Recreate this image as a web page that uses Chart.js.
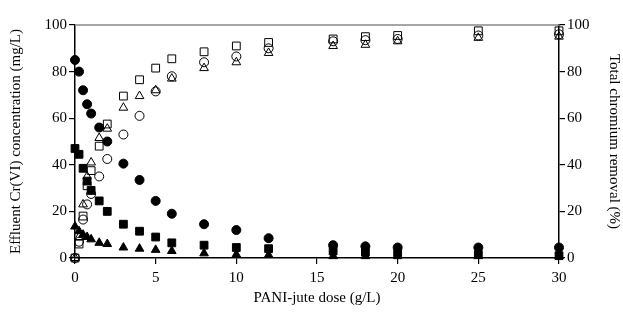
<!DOCTYPE html>
<html>
<head>
<meta charset="utf-8">
<script src="https://cdn.jsdelivr.net/npm/chart.js@4.4.1/dist/chart.umd.min.js"></script>
<style>
  html, body { margin: 0; padding: 0; background: #fff; }
  #wrap { width: 623px; height: 322px; position: relative; }
</style>
</head>
<body>
<div id="wrap"><canvas id="chart"></canvas></div>
<script>
// PANI-jute dose (g/L)
var dose = [0, 0.25, 0.5, 0.75, 1, 1.5, 2, 3, 4, 5, 6, 8, 10, 12, 16, 18, 20, 25, 30];

// effluent Cr(VI) concentration (mg/L), filled markers
var concCircle = [85, 80, 72, 66, 62, 56, 50, 40.5, 33.5, 24.5, 19, 14.5, 12, 8.5, 5.5, 5, 4.5, 4.5, 4.5];
var concSquare = [47, 44.5, 38.5, 33, 29, 24.5, 20, 14.5, 11.5, 9, 6.5, 5.5, 4.5, 4, 3, 2.5, 2, 1.5, 1];
var concTriangle = [13.5, 11.5, 10, 9, 8, 6.5, 6, 4.5, 4, 3.5, 3, 2, 1.5, 1.3, 0.8, 0.8, 0.8, 0.8, 0.8];

// total chromium removal (%), open markers
var remSquare = [0, 6, 18, 31, 37.5, 48, 57.5, 69.5, 76.5, 81.5, 85.5, 88.5, 91, 92.5, 94, 95, 95.5, 97.5, 97.5];
var remCircle = [0, 7, 16.5, 23, 27.5, 35, 42.5, 53, 61, 71.5, 78, 84, 86.5, 90, 93, 93.5, 94, 95.5, 96];
var remTriangle = [0, 9, 23, 35, 41, 51.5, 55.5, 64.5, 69.5, 72, 77, 81.5, 84, 88, 91, 91.5, 93, 94.5, 95];

var xTicks = [0, 5, 10, 15, 20, 25, 30];
var yTicks = [0, 20, 40, 60, 80, 100];

function pts(ys) {
  return dose.map(function (d, i) { return { x: d, y: ys[i] }; });
}

function series(label, ys, style, radius, filled, axis) {
  return {
    label: label,
    data: pts(ys),
    yAxisID: axis,
    pointStyle: style,
    pointRadius: radius,
    pointHoverRadius: radius,
    pointBorderWidth: 1,
    borderColor: "#000",
    backgroundColor: filled ? "#000" : "rgba(0,0,0,0)",
    showLine: false,
    clip: false
  };
}

var font = { family: "'Liberation Serif', 'DejaVu Serif', serif", size: 15 };

// gray top border of the frame
var frame = {
  id: "frame",
  afterDraw: function (chart) {
    var a = chart.chartArea, c = chart.ctx;
    c.save();
    c.strokeStyle = "#888";
    c.lineWidth = 1.5;
    c.beginPath();
    c.moveTo(a.left, a.top);
    c.lineTo(a.right, a.top);
    c.stroke();
    c.restore();
  }
};

var gridOpts = { drawOnChartArea: false, color: "#000", tickColor: "#000", tickLength: 6, tickWidth: 1.2, lineWidth: 1.2 };

var ctx = document.getElementById("chart").getContext("2d");
new Chart(ctx, {
  type: "scatter",
  data: {
    datasets: [
      series("conc circle", concCircle, "circle", 4.5, true, "y"),
      series("conc square", concSquare, "rect", 5.5, true, "y"),
      series("conc triangle", concTriangle, "triangle", 5, true, "y"),
      series("removal square", remSquare, "rect", 5.5, false, "y1"),
      series("removal circle", remCircle, "circle", 4.5, false, "y1"),
      series("removal triangle", remTriangle, "triangle", 5, false, "y1")
    ]
  },
  options: {
    responsive: true,
    maintainAspectRatio: false,
    animation: false,
    layout: { padding: { top: 25, left: 0, right: 0, bottom: 15 } },
    plugins: { legend: { display: false }, tooltip: { enabled: false } },
    scales: {
      x: {
        type: "linear",
        min: 0,
        max: 30,
        afterFit: function (s) { s.height = 49; },
        afterBuildTicks: function (s) { s.ticks = xTicks.map(function (v) { return { value: v }; }); },
        grid: gridOpts,
        border: { color: "#000", width: 1.5 },
        ticks: { color: "#000", font: font, padding: 5, maxRotation: 0 },
        title: { display: true, text: "PANI-jute dose (g/L)", color: "#000", font: font, padding: { top: 2, bottom: 0 } }
      },
      y: {
        type: "linear",
        position: "left",
        min: 0,
        max: 100,
        afterFit: function (s) { s.width = 75; },
        afterBuildTicks: function (s) { s.ticks = yTicks.map(function (v) { return { value: v }; }); },
        grid: gridOpts,
        border: { color: "#000", width: 1.5 },
        ticks: { color: "#000", font: font, padding: 2 },
        title: { display: true, text: "Effluent Cr(VI) concentration (mg/L)", color: "#000", font: font, padding: { top: 7, bottom: 4 } }
      },
      y1: {
        type: "linear",
        position: "right",
        min: 0,
        max: 100,
        afterFit: function (s) { s.width = 64; },
        afterBuildTicks: function (s) { s.ticks = yTicks.map(function (v) { return { value: v }; }); },
        grid: gridOpts,
        border: { color: "#000", width: 1.5 },
        ticks: { color: "#000", font: font, padding: 2 },
        title: { display: true, text: "Total chromium removal (%)", color: "#000", font: font, padding: { top: 0, bottom: 2 } }
      }
    }
  },
  plugins: [frame]
});
</script>
</body>
</html>
